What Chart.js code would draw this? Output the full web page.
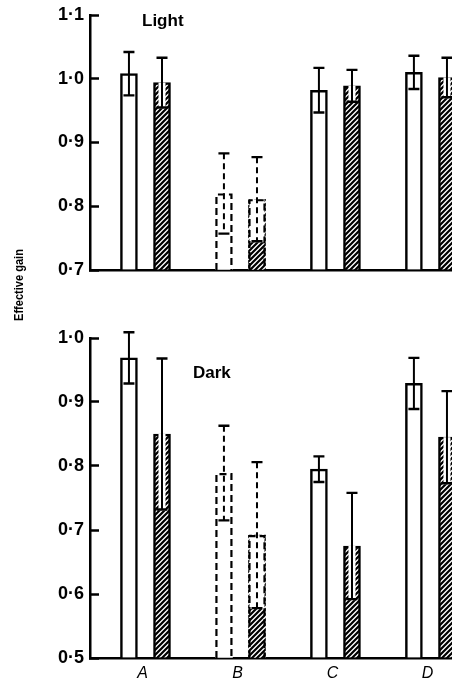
<!DOCTYPE html>
<html><head><meta charset="utf-8">
<script src="https://cdn.jsdelivr.net/npm/chart.js@4"></script>
<style>
html,body{margin:0;padding:0;background:#fff;width:452px;height:678px;overflow:hidden;}
#wrap{position:relative;width:452px;height:678px;}
canvas{position:absolute;left:0;}
#ytitle{position:absolute;left:-41px;top:277px;width:120px;height:16px;line-height:16px;text-align:center;transform:rotate(-90deg) scaleX(0.85);font:bold 13px "Liberation Sans",Arial,sans-serif;color:#000;white-space:nowrap;}
</style></head>
<body>
<div id="wrap">
<canvas id="c1" width="452" height="285" style="top:0"></canvas>
<canvas id="c2" width="452" height="388" style="top:290px"></canvas>
<div id="ytitle">Effective gain</div>
</div>
<script>
// ---- data ----
const categories = ['A','B','C','D'];
const lightOpen = [1.008, 0.820, 0.982, 1.010];
const lightOpenErr = [0.034, 0.063, 0.035, 0.026];
const lightHatched = [0.994, 0.811, 0.989, 1.002];
const lightHatchedErr = [0.039, 0.066, 0.025, 0.031];
const darkOpen = [0.969, 0.789, 0.795, 0.929];
const darkOpenErr = [0.040, 0.074, 0.020, 0.040];
const darkHatched = [0.850, 0.692, 0.675, 0.845];
const darkHatchedErr = [0.118, 0.114, 0.083, 0.072];
const lightTicks = [0.7, 0.8, 0.9, 1.0, 1.1];
const lightTickLabels = ['0·7','0·8','0·9','1·0','1·1'];
const darkTicks = [0.5, 0.6, 0.7, 0.8, 0.9, 1.0];
const darkTickLabels = ['0·5','0·6','0·7','0·8','0·9','1·0'];
const dashedCategories = ['B'];

// ---- layout constants ----
const X_MIN = 0.416, X_MAX = 4.227, PAIR_OFFSET = 0.174;
const FONT = '"Liberation Sans", Arial, sans-serif';

function makeHatch() {
  const c = document.createElement('canvas'); c.width = 5; c.height = 5;
  const g = c.getContext('2d');
  g.fillStyle = '#fff'; g.fillRect(0, 0, 5, 5);
  g.strokeStyle = '#000'; g.lineWidth = 2.2;
  g.beginPath();
  g.moveTo(-1, 6); g.lineTo(6, -1);
  g.moveTo(-1, 1); g.lineTo(1, -1);
  g.moveTo(4, 6); g.lineTo(6, 4);
  g.stroke();
  return g.createPattern(c, 'repeat');
}
const hatch = makeHatch();

const isDashed = i => dashedCategories.includes(categories[i]);

const decorPlugin = {
  id: 'decor',
  afterDatasetsDraw(chart, args, o) {
    const ctx = chart.ctx, ys = chart.scales.y, area = chart.chartArea;
    chart.data.datasets.forEach((ds, di) => {
      const meta = chart.getDatasetMeta(di);
      const errs = o.errors[di];
      meta.data.forEach((bar, i) => {
        const v = ds.data[i].y, e = errs[i];
        const p = bar.getProps(['x', 'y', 'width'], true);
        const x = p.x, y = p.y, w = p.width, base = area.bottom;
        const dashed = isDashed(i);
        const yTop = ys.getPixelForValue(v + e), yLow = ys.getPixelForValue(v - e);
        ctx.save();
        if (ds.hatched) {
          const bw = dashed ? w - 2 : 7;
          ctx.fillStyle = '#fff';
          ctx.fillRect(x - bw / 2, y, bw, yLow - y + 1);
        }
        if (dashed) {
          ctx.strokeStyle = '#000'; ctx.lineWidth = 2.2; ctx.setLineDash([7, 4]);
          const l = x - w / 2 + 1, r = x + w / 2 - 1;
          ctx.beginPath();
          ctx.moveTo(l, base); ctx.lineTo(l, y + 1); ctx.lineTo(r, y + 1); ctx.lineTo(r, base);
          ctx.stroke();
        }
        // error bar
        ctx.strokeStyle = '#000'; ctx.lineWidth = 2;
        ctx.setLineDash(dashed ? [6, 4] : []);
        ctx.beginPath(); ctx.moveTo(x, yTop); ctx.lineTo(x, yLow); ctx.stroke();
        ctx.setLineDash([]); ctx.lineWidth = 2.4;
        ctx.beginPath();
        ctx.moveTo(x - 5.5, yTop); ctx.lineTo(x + 5.5, yTop);
        ctx.moveTo(x - 5.5, yLow); ctx.lineTo(x + 5.5, yLow);
        ctx.stroke();
        ctx.restore();
      });
    });
  },
  afterDraw(chart, args, o) {
    const ctx = chart.ctx;
    ctx.save();
    ctx.fillStyle = '#000';
    ctx.font = 'bold 17px ' + FONT;
    ctx.textBaseline = 'alphabetic';
    ctx.fillText(o.title, o.titleX, o.titleY);
    ctx.restore();
  }
};

function makeChart(id, cfg) {
  const openPts = cfg.open.map((v, i) => ({ x: i + 1 - PAIR_OFFSET, y: v }));
  const hatchPts = cfg.hatched.map((v, i) => ({ x: i + 1 + PAIR_OFFSET, y: v }));
  return new Chart(document.getElementById(id), {
    type: 'bar',
    data: {
      datasets: [
        { data: openPts, backgroundColor: '#fff', borderColor: '#000',
          borderWidth: c => isDashed(c.dataIndex) ? 0 : 2.5, borderSkipped: 'start',
          grouped: false, barThickness: 17, base: cfg.yMin, clip: 0 },
        { data: hatchPts, hatched: true, backgroundColor: hatch, borderColor: '#000',
          borderWidth: c => isDashed(c.dataIndex) ? 0 : 2.5, borderSkipped: 'start',
          grouped: false, barThickness: 17, base: cfg.yMin, clip: 0 }
      ]
    },
    options: {
      responsive: false, animation: false,
      layout: { padding: { top: cfg.padTop, left: 0, right: 0, bottom: 0 } },
      plugins: {
        legend: { display: false }, tooltip: { enabled: false },
        decor: { errors: [cfg.openErr, cfg.hatchedErr], title: cfg.title, titleX: cfg.titleX, titleY: cfg.titleY }
      },
      scales: {
        x: {
          type: 'linear', min: X_MIN, max: X_MAX, offset: false,
          grid: { display: false, drawTicks: false, offset: false },
          border: { display: true, color: '#000', width: 2.5 },
          afterBuildTicks: s => { s.ticks = categories.map((c, i) => ({ value: i + 1 })); },
          ticks: { display: cfg.showLabels, callback: (v, i) => categories[i], autoSkip: false, maxRotation: 0,
                   color: '#000', padding: 6, labelOffset: -3, font: { family: FONT, size: 16, style: 'italic' } },
          afterFit: s => { s.height = cfg.xAxisHeight; s.paddingLeft = 0; s.paddingRight = 0; }
        },
        y: {
          type: 'linear', min: cfg.yMin, max: cfg.yMax,
          grid: { display: true, drawOnChartArea: false, drawTicks: true, tickLength: -9,
                  tickColor: '#000', tickWidth: 2.5 },
          border: { display: true, color: '#000', width: 2.5 },
          afterBuildTicks: s => { s.ticks = cfg.ticks.map(v => ({ value: v })); },
          ticks: { callback: (v, i) => cfg.tickLabels[i], color: '#000', padding: 15,
                   font: { family: FONT, size: 18, weight: 'bold' } },
          afterFit: s => { s.width = 90; s.paddingTop = 0; s.paddingBottom = 0; }
        }
      }
    },
    plugins: [decorPlugin]
  });
}

makeChart('c1', {
  open: lightOpen, openErr: lightOpenErr, hatched: lightHatched, hatchedErr: lightHatchedErr,
  ticks: lightTicks, tickLabels: lightTickLabels, yMin: 0.7, yMax: 1.1,
  padTop: 15, xAxisHeight: 15, showLabels: false,
  title: 'Light', titleX: 142, titleY: 25.5
});
makeChart('c2', {
  open: darkOpen, openErr: darkOpenErr, hatched: darkHatched, hatchedErr: darkHatchedErr,
  ticks: darkTicks, tickLabels: darkTickLabels, yMin: 0.5, yMax: 1.0,
  padTop: 48, xAxisHeight: 20, showLabels: true,
  title: 'Dark', titleX: 193, titleY: 88
});
</script>
</body></html>
